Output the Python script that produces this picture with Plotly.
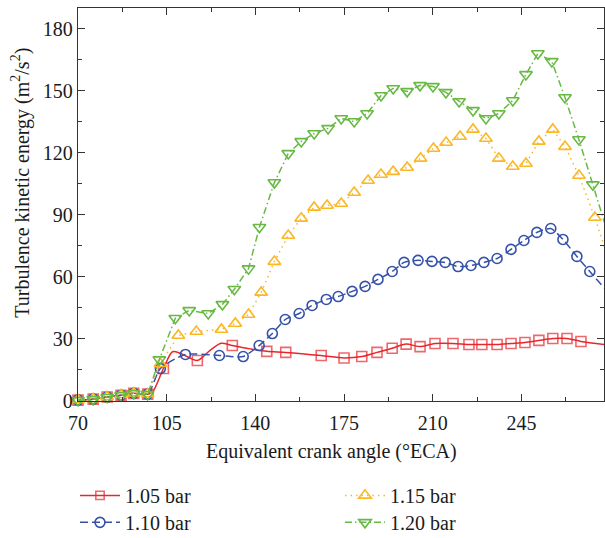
import plotly.graph_objects as go

# ---------------- data ----------------
# 1.05 bar (red): marker points
red_x = [70, 76, 81.5, 87, 92, 97.5, 103.7, 117.1, 130.9, 144.5, 152, 166, 175, 182, 188, 194, 199.5,
         205, 210.9, 218, 224.3, 229.4, 235.4, 240.9, 246.4, 251.9, 257.4, 263, 268.5, 277.9]
red_y = [0.4, 0.9, 1.9, 2.8, 3.7, 3.3, 15.7, 19.6, 26.8, 24, 23.5, 22, 20.8, 21.5, 23.5, 25.5, 27.5,
         26.3, 27.8, 27.8, 27.3, 27.3, 27.3, 27.8, 28.3, 29.3, 30.2, 30.2, 28.8, 27.3]
# 1.05 bar: extra curve points between markers (no marker)
red_curve_x = [99.5, 107.3, 110.5, 122, 126.5, 138]
red_curve_y = [4.5, 23.8, 23.0, 24.4, 27.9, 25.2]

# 1.10 bar (blue)
blue_x = [70, 76, 81.5, 87, 92, 97.5, 102.5, 112.4, 125.8, 135.2, 141.5, 146.7, 151.8, 157.3, 162.4,
          168, 172.7, 178.2, 183.3, 188.4, 194, 198.7, 204.2, 209.7, 214.9, 220, 225.1, 230.2, 235.4,
          240.9, 246, 251.1, 256.6, 261.4, 266.9, 272, 277.9]
blue_y = [0.4, 0.9, 1.9, 2.8, 3.7, 3.3, 15.7, 22.5, 22, 21.5, 26.8, 32.6, 39.4, 42.3, 46.2,
          49.1, 50.5, 53, 55.4, 58.8, 62.6, 67, 68, 67.5, 67, 65, 65.5, 67, 68.9,
          73.3, 77.6, 81.5, 83.4, 78.1, 69.9, 62.6, 54.4]

# 1.15 bar (yellow)
yel_x = [70, 76, 81.5, 87, 92, 97.5, 102.5, 109.6, 116.7, 126.6, 132.1, 137.3, 142.3, 147.5, 153,
         158.1, 163.2, 168.3, 173.9, 179, 184.5, 189.6, 194.4, 199.9, 205.2, 210.3, 215.3, 220.8,
         225.9, 231, 236.1, 241.6, 246.8, 251.9, 257.4, 262.2, 267.7, 274, 277.9]
yel_y = [0.5, 1.0, 2.0, 3.0, 3.8, 3.4, 18, 31.7, 33.6, 34.6, 37.5, 41.8, 52.5, 67.4, 80,
         88.3, 93.6, 94.5, 95.5, 100.8, 106.6, 109.5, 110.9, 112.9, 117.3, 122.1, 125, 127.9,
         131.3, 126.9, 117.3, 113.4, 114.8, 125.5, 131.3, 123, 109, 88.7, 74]

# 1.20 bar (green)
grn_x = [70, 76, 81.5, 87, 92, 97.5, 102.1, 108.4, 113.9, 121.4, 127, 131.7, 137.3, 141.6, 147.5,
         153, 158.1, 163.2, 168.7, 173.9, 179, 184.1, 189.6, 194.4, 199.9, 205, 210.1, 215.2,
         220.4, 225.9, 231, 236.1, 241.6, 246.8, 251.5, 257, 262.2, 267.7, 273.2, 277.9]
grn_y = [0.3, 0.8, 1.8, 2.7, 3.6, 3.2, 20, 40, 43.8, 42.3, 46.7, 54, 64, 84, 105.6,
         119.7, 125.5, 129.3, 131.8, 136.6, 135.1, 139, 147.7, 151.1, 149.7, 152.6, 152.1, 149.2,
         144.8, 140.5, 136.6, 139, 145.3, 157.9, 168, 164.2, 146.7, 126.4, 104.6, 85.8]

x_ticks = [70, 105, 140, 175, 210, 245]
y_ticks = [0, 30, 60, 90, 120, 150, 180]

# ---------------- styles ----------------
RED = "#E8262C"
BLUE = "#3552A8"
YEL = "#FBB726"
GRN = "#68B944"
FONT = "Liberation Serif"
AX = "#333333"

fig = go.Figure()

# red: merge marker and curve points
pts = sorted([(x, y, 10) for x, y in zip(red_x, red_y)] +
             [(x, y, 0) for x, y in zip(red_curve_x, red_curve_y)])
fig.add_trace(go.Scatter(
    x=[p[0] for p in pts], y=[p[1] for p in pts], name="1.05 bar",
    mode="lines+markers", line=dict(color=RED, width=1.5, shape="spline", smoothing=0.8),
    marker=dict(symbol="square-open", size=[p[2] for p in pts], color=RED, line=dict(width=1.6)),
    legend="legend", showlegend=True, cliponaxis=False))

fig.add_trace(go.Scatter(
    x=blue_x, y=blue_y, name="1.10 bar", mode="lines+markers",
    line=dict(color=BLUE, width=1.5, dash="8px,4px", shape="spline", smoothing=0.6),
    marker=dict(symbol="circle-open", size=10, color=BLUE, line=dict(width=1.6)),
    legend="legend2", showlegend=True, cliponaxis=False))

fig.add_trace(go.Scatter(
    x=yel_x, y=yel_y, name="1.15 bar", mode="lines+markers",
    line=dict(color=YEL, width=1.5, dash="1.5px,4px"),
    marker=dict(symbol="triangle-up-open", size=11, color=YEL, line=dict(width=1.6)),
    legend="legend3", showlegend=True, cliponaxis=False))

fig.add_trace(go.Scatter(
    x=grn_x, y=grn_y, name="1.20 bar", mode="lines+markers",
    line=dict(color=GRN, width=1.5, dash="7px,3px,1.5px,3px"),
    marker=dict(symbol="triangle-down-open", size=11, color=GRN, line=dict(width=1.6)),
    legend="legend4", showlegend=True, cliponaxis=False))

L, R, T, B = 78, 604, 8, 401.5
W, H = 605, 538

def px2paper_x(px):
    return (px - L) / (R - L)

def px2paper_y(py):
    return (B - py) / (B - T)

axis_common = dict(
    showline=True, linecolor=AX, linewidth=1.3, mirror="ticks",
    ticks="inside", ticklen=7, tickwidth=1.2, tickcolor=AX,
    showgrid=False, zeroline=False,
    tickfont=dict(family=FONT, size=20, color="#1a1a1a"),
)

fig.update_layout(
    width=W, height=H, showlegend=True,
    margin=dict(l=L, r=W - R, t=T, b=H - B, autoexpand=False),
    paper_bgcolor="white", plot_bgcolor="white",
    xaxis=dict(range=[70, 277.6], tickmode="array", tickvals=x_ticks, ticklabelstandoff=4,
               minor=dict(dtick=17.5, tick0=70, ticks="inside", ticklen=4, tickcolor=AX, tickwidth=1.1),
               **axis_common),
    yaxis=dict(range=[0, 190], tickmode="array", tickvals=y_ticks,
               minor=dict(dtick=15, tick0=0, ticks="inside", ticklen=4, tickcolor=AX, tickwidth=1.1),
               **axis_common),
)

leg_font = dict(family=FONT, size=20, color="#1a1a1a")
leg_pos = {
    "legend": (75, 496),
    "legend2": (75, 523),
    "legend3": (340, 496),
    "legend4": (340, 523),
}
for key, (lx, ly) in leg_pos.items():
    fig.update_layout({key: dict(
        x=px2paper_x(lx), y=px2paper_y(ly), xanchor="left", yanchor="middle",
        xref="paper", yref="paper", bgcolor="rgba(0,0,0,0)", borderwidth=0,
        font=leg_font, itemwidth=40, tracegroupgap=0, visible=True)})

fig.add_annotation(
    text="Equivalent crank angle (°ECA)", xref="paper", yref="paper",
    x=px2paper_x(331), y=px2paper_y(452), xanchor="center", yanchor="middle",
    showarrow=False, font=dict(family=FONT, size=20, color="#1a1a1a"))
fig.add_annotation(
    text="Turbulence kinetic energy (m<sup>2</sup>/s<sup>2</sup>)", xref="paper", yref="paper",
    x=px2paper_x(21), y=px2paper_y(183), xanchor="center", yanchor="middle", textangle=-90,
    showarrow=False, font=dict(family=FONT, size=20, color="#1a1a1a"))

fig.write_html("out.html")
